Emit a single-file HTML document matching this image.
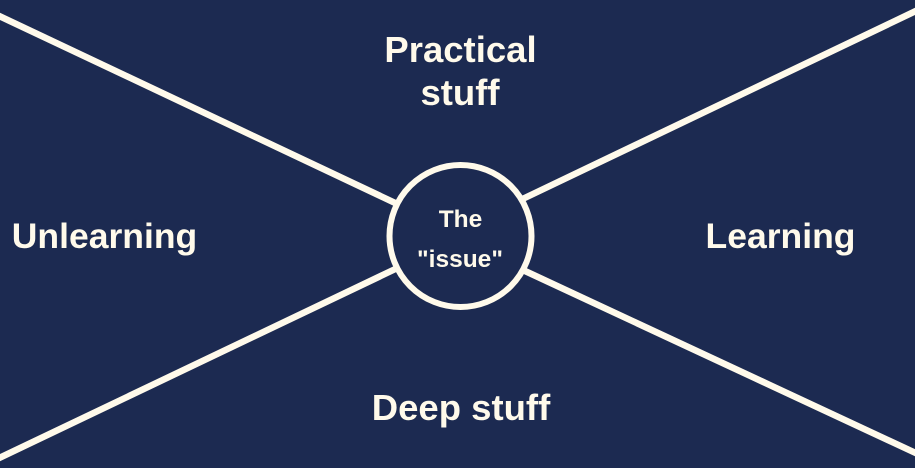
<!DOCTYPE html>
<html><head><meta charset="utf-8"><style>
html,body{margin:0;padding:0;background:#1c2a51;}
svg{display:block;}
text{font-family:"Liberation Sans",sans-serif;font-weight:bold;fill:#fffaeb;}
</style></head><body>
<svg width="915" height="468" viewBox="0 0 915 468" xmlns="http://www.w3.org/2000/svg">
<rect x="0" y="0" width="915" height="468" fill="#1c2a51"/>
<g stroke="#fffaeb" stroke-width="6.5" fill="none">
<line x1="-5" y1="14" x2="410" y2="210"/>
<line x1="920" y1="9" x2="510" y2="205"/>
<line x1="-5" y1="460" x2="410" y2="262"/>
<line x1="920" y1="455" x2="510" y2="264"/>
</g>
<circle cx="460.5" cy="236" r="71" fill="#1c2a51" stroke="#fffaeb" stroke-width="6"/>
<text x="460.5" y="62" font-size="36.5" text-anchor="middle">Practical</text>
<text x="460" y="105" font-size="36.5" text-anchor="middle">stuff</text>
<text x="104.5" y="248" font-size="35.5" text-anchor="middle">Unlearning</text>
<text x="780.5" y="248" font-size="35.5" text-anchor="middle">Learning</text>
<text x="461" y="420" font-size="36.5" text-anchor="middle">Deep stuff</text>
<text x="460.5" y="227" font-size="24.5" text-anchor="middle">The</text>
<text x="460" y="267" font-size="24.5" text-anchor="middle">"issue"</text>
</svg>
</body></html>
